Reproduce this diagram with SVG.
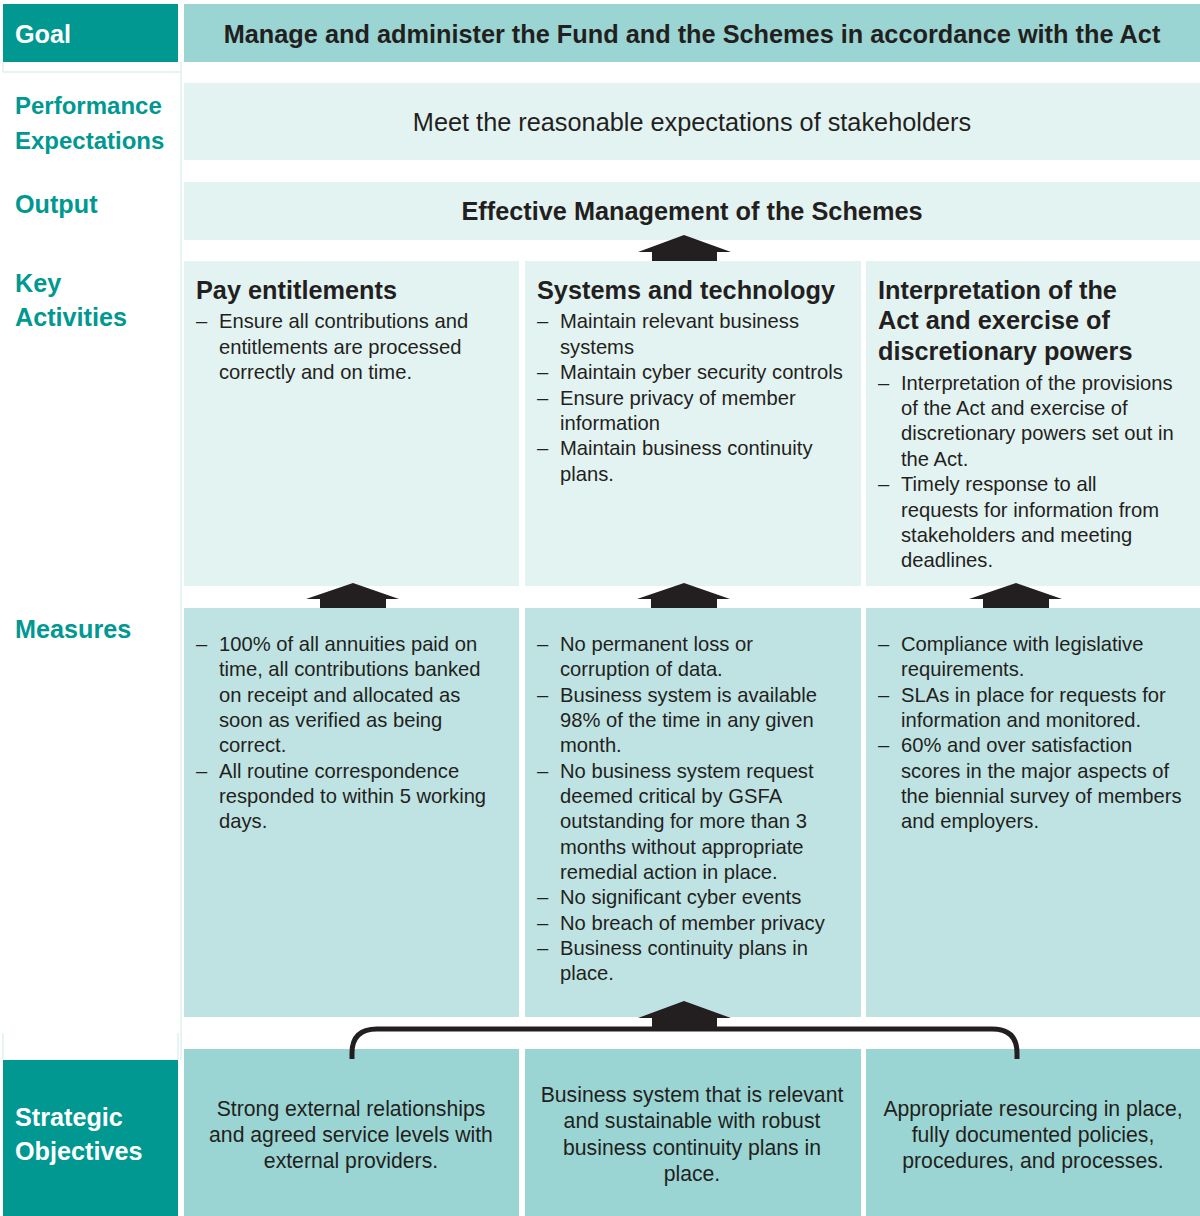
<svg xmlns="http://www.w3.org/2000/svg" width="1200" height="1216" viewBox="0 0 1200 1216">
<style>
.dk{fill:#009891}
.c1{fill:#9AD5D3}
.c2{fill:#E3F3F2}
.c3{fill:#BFE3E3}
.lbl{font-family:"Liberation Sans",Arial,sans-serif;font-weight:bold;font-size:25.2px;fill:#009891}
.lbs{font-size:24px}
.wl{font-family:"Liberation Sans",Arial,sans-serif;font-weight:bold;font-size:25.2px;fill:#FFFFFF}
.hd{font-family:"Liberation Sans",Arial,sans-serif;font-weight:bold;font-size:25.3px;fill:#231F20}
.tt{font-family:"Liberation Sans",Arial,sans-serif;font-weight:bold;font-size:25.3px;fill:#231F20}
.rg{font-family:"Liberation Sans",Arial,sans-serif;font-size:25.3px;fill:#231F20}
.bd{font-family:"Liberation Sans",Arial,sans-serif;font-size:20.2px;fill:#231F20}
.ob{font-family:"Liberation Sans",Arial,sans-serif;font-size:21.2px;fill:#231F20;text-anchor:middle}
.ct{text-anchor:middle}
.arr{fill:#231F20}
.faint{stroke:#CDE9E8;stroke-width:1;fill:none}
</style>

<g id="gridlines">
<path class="faint" d="M3,62 V72 H181 V1060 M3,1033 V1060 M178,1033 V1060 M181,62 V72"/>
</g>

<g id="goal">
<rect class="dk" x="3" y="4" width="175" height="58"/>
<text class="wl" x="15" y="43">Goal</text>
<rect class="c1" x="184" y="4" width="1016" height="58"/>
<text class="tt ct" x="692" y="43">Manage and administer the Fund and the Schemes in accordance with the Act</text>
</g>

<g id="performance">
<text class="lbl lbs" x="15" y="114">Performance</text>
<text class="lbl lbs" x="15" y="149">Expectations</text>
<rect class="c2" x="184" y="83" width="1016" height="77"/>
<text class="rg ct" x="692" y="131">Meet the reasonable expectations of stakeholders</text>
</g>

<g id="output">
<text class="lbl" x="15" y="213">Output</text>
<rect class="c2" x="184" y="182" width="1016" height="58"/>
<text class="tt ct" x="692" y="220">Effective Management of the Schemes</text>
</g>

<g id="key-label">
<text class="lbl" x="15" y="292">Key</text>
<text class="lbl" x="15" y="326">Activities</text>
</g>

<g id="ka-pay">
<rect class="c2" x="184" y="261" width="335" height="325"/>
<text class="hd" x="196" y="299">Pay entitlements</text>
<text class="bd" x="196" y="328">–</text>
<text class="bd" x="219" y="328">Ensure all contributions and</text>
<text class="bd" x="219" y="354">entitlements are processed</text>
<text class="bd" x="219" y="379">correctly and on time.</text>
</g>

<g id="ka-systems">
<rect class="c2" x="525" y="261" width="336" height="325"/>
<text class="hd" x="537" y="299">Systems and technology</text>
<text class="bd" x="537" y="328">–</text>
<text class="bd" x="560" y="328">Maintain relevant business</text>
<text class="bd" x="560" y="354">systems</text>
<text class="bd" x="537" y="379">–</text>
<text class="bd" x="560" y="379">Maintain cyber security controls</text>
<text class="bd" x="537" y="405">–</text>
<text class="bd" x="560" y="405">Ensure privacy of member</text>
<text class="bd" x="560" y="430">information</text>
<text class="bd" x="537" y="455">–</text>
<text class="bd" x="560" y="455">Maintain business continuity</text>
<text class="bd" x="560" y="481">plans.</text>
</g>

<g id="ka-interpretation">
<rect class="c2" x="866" y="261" width="334" height="325"/>
<text class="hd" x="878" y="299">Interpretation of the</text>
<text class="hd" x="878" y="329">Act and exercise of</text>
<text class="hd" x="878" y="360">discretionary powers</text>
<text class="bd" x="878" y="390">–</text>
<text class="bd" x="901" y="390">Interpretation of the provisions</text>
<text class="bd" x="901" y="415">of the Act and exercise of</text>
<text class="bd" x="901" y="440">discretionary powers set out in</text>
<text class="bd" x="901" y="466">the Act.</text>
<text class="bd" x="878" y="491">–</text>
<text class="bd" x="901" y="491">Timely response to all</text>
<text class="bd" x="901" y="517">requests for information from</text>
<text class="bd" x="901" y="542">stakeholders and meeting</text>
<text class="bd" x="901" y="567">deadlines.</text>
</g>

<g id="measures-label">
<text class="lbl" x="15" y="638">Measures</text>
</g>

<g id="m-pay">
<rect class="c3" x="184" y="608" width="335" height="409"/>
<text class="bd" x="196" y="651">–</text>
<text class="bd" x="219" y="651">100% of all annuities paid on</text>
<text class="bd" x="219" y="676">time, all contributions banked</text>
<text class="bd" x="219" y="702">on receipt and allocated as</text>
<text class="bd" x="219" y="727">soon as verified as being</text>
<text class="bd" x="219" y="752">correct.</text>
<text class="bd" x="196" y="778">–</text>
<text class="bd" x="219" y="778">All routine correspondence</text>
<text class="bd" x="219" y="803">responded to within 5 working</text>
<text class="bd" x="219" y="828">days.</text>
</g>

<g id="m-systems">
<rect class="c3" x="525" y="608" width="336" height="409"/>
<text class="bd" x="537" y="651">–</text>
<text class="bd" x="560" y="651">No permanent loss or</text>
<text class="bd" x="560" y="676">corruption of data.</text>
<text class="bd" x="537" y="702">–</text>
<text class="bd" x="560" y="702">Business system is available</text>
<text class="bd" x="560" y="727">98% of the time in any given</text>
<text class="bd" x="560" y="752">month.</text>
<text class="bd" x="537" y="778">–</text>
<text class="bd" x="560" y="778">No business system request</text>
<text class="bd" x="560" y="803">deemed critical by GSFA</text>
<text class="bd" x="560" y="828">outstanding for more than 3</text>
<text class="bd" x="560" y="854">months without appropriate</text>
<text class="bd" x="560" y="879">remedial action in place.</text>
<text class="bd" x="537" y="904">–</text>
<text class="bd" x="560" y="904">No significant cyber events</text>
<text class="bd" x="537" y="930">–</text>
<text class="bd" x="560" y="930">No breach of member privacy</text>
<text class="bd" x="537" y="955">–</text>
<text class="bd" x="560" y="955">Business continuity plans in</text>
<text class="bd" x="560" y="980">place.</text>
</g>

<g id="m-interpretation">
<rect class="c3" x="866" y="608" width="334" height="409"/>
<text class="bd" x="878" y="651">–</text>
<text class="bd" x="901" y="651">Compliance with legislative</text>
<text class="bd" x="901" y="676">requirements.</text>
<text class="bd" x="878" y="702">–</text>
<text class="bd" x="901" y="702">SLAs in place for requests for</text>
<text class="bd" x="901" y="727">information and monitored.</text>
<text class="bd" x="878" y="752">–</text>
<text class="bd" x="901" y="752">60% and over satisfaction</text>
<text class="bd" x="901" y="778">scores in the major aspects of</text>
<text class="bd" x="901" y="803">the biennial survey of members</text>
<text class="bd" x="901" y="828">and employers.</text>
</g>

<g id="objectives-label">
<rect class="dk" x="3" y="1060" width="175" height="156"/>
<text class="wl" x="15" y="1126">Strategic</text>
<text class="wl" x="15" y="1160">Objectives</text>
</g>

<g id="so-1">
<rect class="c1" x="184" y="1049" width="335" height="167"/>
<text class="ob" x="351" y="1116">Strong external relationships</text>
<text class="ob" x="351" y="1142">and agreed service levels with</text>
<text class="ob" x="351" y="1168">external providers.</text>
</g>

<g id="so-2">
<rect class="c1" x="525" y="1049" width="336" height="167"/>
<text class="ob" x="692" y="1102">Business system that is relevant</text>
<text class="ob" x="692" y="1128">and sustainable with robust</text>
<text class="ob" x="692" y="1155">business continuity plans in</text>
<text class="ob" x="692" y="1181">place.</text>
</g>

<g id="so-3">
<rect class="c1" x="866" y="1049" width="334" height="167"/>
<text class="ob" x="1033" y="1116">Appropriate resourcing in place,</text>
<text class="ob" x="1033" y="1142">fully documented policies,</text>
<text class="ob" x="1033" y="1168">procedures, and processes.</text>
</g>

<g id="connectors">
<polygon class="arr" points="684,235 731,252 717,252 717,261 652,261 652,252 638,252"/>
<polygon class="arr" points="353,583 399,599 386,599 386,608 320,608 320,599 306,599"/>
<polygon class="arr" points="684,583 730,599 717,599 717,608 651,608 651,599 637,599"/>
<polygon class="arr" points="1016,583 1062,599 1049,599 1049,608 983,608 983,599 969,599"/>
<polygon class="arr" points="684,1001 731,1018 717,1018 717,1029 652,1029 652,1018 638,1018"/>
<path d="M352,1059 V1053 Q352,1029 377,1029 H992 Q1017,1029 1017,1053 V1059" fill="none" stroke="#231F20" stroke-width="5"/>
</g>
</svg>
